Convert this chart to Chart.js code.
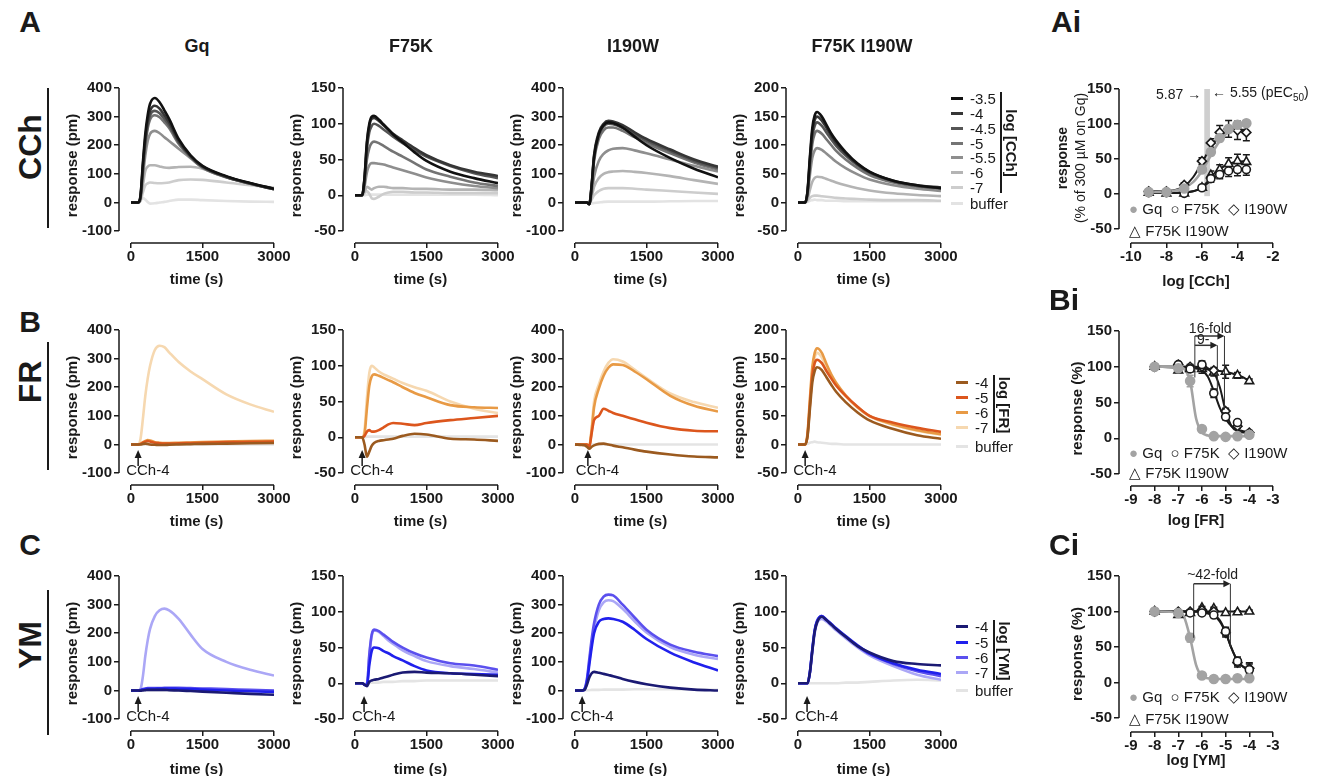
<!DOCTYPE html>
<html>
<head>
<meta charset="utf-8">
<script src="https://cdn.jsdelivr.net/npm/chart.js@4.4.0/dist/chart.umd.min.js"></script>
<style>
  body { margin: 0; background: #fff; }
  #fig { position: relative; width: 1318px; height: 776px; overflow: hidden;
         font-family: "Liberation Sans", Arial, sans-serif; color: #1a1a1a; }
  #fig canvas { position: absolute; }
  .t { position: absolute; white-space: nowrap; line-height: 1; }
</style>
</head>
<body>
<div id="fig"></div>
<script>
// ---- data ----
const times = [0, 150, 200, 250, 300, 350, 400, 500, 600, 700, 800, 1000, 1250, 1500, 2000, 2500, 3000];
const timeTicks = [0, 1500, 3000];

const cchDoses = ['-3.5', '-4', '-4.5', '-5', '-5.5', '-6', '-7', 'buffer'];
const frDoses = ['-4', '-5', '-6', '-7', 'buffer'];
const ymDoses = ['-4', '-5', '-6', '-7', 'buffer'];

const cchGq = [
  [0, 0, 25, 140, 240, 305, 345, 365, 350, 322, 292, 222, 165, 128, 92, 68, 48],
  [0, 0, 22, 130, 225, 285, 320, 338, 328, 305, 280, 215, 162, 126, 90, 67, 47],
  [0, 0, 20, 120, 210, 270, 305, 320, 312, 292, 270, 210, 160, 124, 89, 66, 46],
  [0, 0, 18, 110, 200, 258, 290, 305, 298, 280, 260, 205, 158, 122, 88, 65, 46],
  [0, 0, 15, 90, 165, 215, 240, 250, 242, 228, 215, 188, 155, 122, 88, 65, 46],
  [0, 0, 10, 60, 110, 125, 130, 130, 126, 122, 121, 124, 125, 118, 90, 67, 48],
  [0, 0, 5, 35, 60, 67, 70, 68, 67, 68, 70, 78, 80, 79, 70, 60, 52],
  [0, 0, 8, 15, 10, 2, -4, -3, 0, 2, 5, 10, 10, 8, 5, 3, 2]
];
const cchF75K = [
  [0, 0, 25, 75, 100, 110, 111, 106, 99, 92, 85, 74, 60, 48, 33, 24, 17],
  [0, 0, 24, 72, 97, 107, 108, 104, 98, 92, 86, 77, 66, 56, 42, 33, 27],
  [0, 0, 22, 65, 88, 97, 100, 97, 92, 87, 82, 73, 63, 54, 41, 31, 24],
  [0, 0, 18, 50, 66, 73, 75, 73, 69, 65, 61, 54, 45, 36, 26, 18, 13],
  [0, 0, 12, 32, 42, 45, 45, 44, 43, 41, 39, 35, 30, 25, 18, 13, 10],
  [0, 0, 5, 12, 10, 8, 10, 12, 12, 11, 10, 10, 9, 9, 8, 8, 7],
  [0, 0, 3, 6, 2, -4, -5, -2, 2, 4, 5, 5, 4, 4, 3, 3, 3],
  [0, 0, 0, 1, 1, 1, 1, 1, 1, 1, 1, 1, 1, 1, 1, 1, 0]
];
const cchI190W = [
  [0, 0, 0, 0, -6, 60, 160, 240, 270, 280, 278, 262, 230, 200, 155, 118, 88],
  [0, 0, 0, 0, -6, 62, 165, 245, 275, 285, 283, 270, 245, 222, 185, 150, 125],
  [0, 0, 0, 0, -6, 58, 155, 235, 265, 275, 273, 260, 237, 215, 180, 145, 120],
  [0, 0, 0, 0, -5, 52, 145, 222, 252, 262, 262, 250, 228, 207, 172, 140, 115],
  [0, 0, 0, 0, -4, 32, 90, 145, 170, 182, 188, 190, 182, 172, 150, 128, 108],
  [0, 0, 0, 0, -3, 20, 55, 85, 100, 106, 108, 110, 107, 103, 92, 78, 65],
  [0, 0, 0, 0, -2, 10, 25, 40, 48, 50, 50, 50, 48, 45, 40, 35, 30],
  [0, 0, 0, 0, -5, -3, -2, 0, 2, 3, 3, 3, 3, 3, 4, 5, 5]
];
const cchFI = [
  [0, 0, 20, 80, 130, 152, 158, 150, 135, 120, 108, 88, 68, 54, 38, 30, 25],
  [0, 0, 19, 75, 123, 144, 150, 143, 130, 116, 104, 85, 67, 53, 38, 30, 26],
  [0, 0, 18, 70, 115, 134, 140, 134, 122, 110, 99, 82, 65, 52, 37, 29, 25],
  [0, 0, 16, 62, 102, 120, 125, 120, 110, 100, 90, 75, 60, 48, 35, 28, 24],
  [0, 0, 12, 48, 78, 91, 95, 92, 85, 78, 71, 60, 49, 40, 30, 24, 20],
  [0, 0, 6, 22, 36, 43, 45, 44, 41, 38, 35, 30, 25, 21, 16, 13, 11],
  [0, 0, 3, 8, 11, 12, 12, 11, 10, 9, 8, 7, 6, 5, 4, 4, 3],
  [0, 0, 1, 3, 4, 5, 4, 4, 3, 3, 3, 2, 2, 2, 2, 2, 2]
];

const frGq = [
  [0, 0, 0, 2, 3, 2, 0, -1, -2, -2, -1, 0, 1, 2, 3, 4, 5],
  [0, 0, 2, 6, 10, 12, 10, 6, 4, 3, 3, 4, 5, 6, 8, 9, 10],
  [0, 0, 2, 8, 12, 15, 14, 8, 6, 5, 5, 6, 7, 8, 10, 12, 13],
  [0, 0, 20, 90, 170, 230, 275, 330, 345, 340, 322, 288, 255, 228, 175, 140, 114],
  [0, 0, 0, 0, 0, 0, 0, 0, 0, 0, 0, 0, 0, 0, 0, 0, 0]
];
const frF75K = [
  [0, 0, -10, -27, -20, -12, -8, -5, -4, -3, -2, 2, 5, 4, -2, -3, -5],
  [0, 0, 2, 8, 10, 8, 8, 10, 14, 18, 20, 19, 17, 20, 24, 27, 30],
  [0, 0, 5, 40, 72, 85, 88, 86, 83, 80, 77, 70, 62, 56, 45, 42, 41],
  [0, 0, 10, 55, 90, 100, 98, 92, 88, 85, 82, 76, 70, 65, 50, 40, 34],
  [0, 0, 0, 1, 1, 1, 1, 1, 1, 1, 1, 1, 1, 1, 1, 1, 1]
];
const frI190W = [
  [0, -2, -3, -8, -15, -8, -3, 2, 3, 0, -4, -10, -18, -25, -35, -42, -45],
  [0, 0, 0, 0, -8, 40, 85, 100, 125, 118, 110, 100, 88, 76, 57, 48, 46],
  [0, 0, 0, 0, -5, 50, 130, 195, 240, 268, 280, 278, 255, 228, 170, 135, 115],
  [0, 0, 0, 0, -5, 60, 150, 210, 255, 285, 298, 290, 262, 232, 178, 148, 128],
  [0, 0, 0, 0, 0, 0, 0, 0, 0, 0, 0, 0, 0, 0, 0, 0, 0]
];
const frFI = [
  [0, 0, 14, 62, 108, 128, 135, 130, 117, 104, 92, 74, 56, 42, 27, 16, 10],
  [0, 0, 16, 70, 120, 142, 148, 142, 128, 115, 103, 85, 66, 50, 38, 29, 22],
  [0, 0, 20, 80, 135, 160, 168, 160, 140, 122, 108, 86, 65, 50, 35, 25, 18],
  [0, 0, 18, 75, 128, 152, 160, 152, 134, 118, 104, 84, 64, 49, 34, 24, 17],
  [0, 0, 1, 3, 4, 5, 4, 3, 2, 1, 1, 0, 0, 0, 0, 0, 0]
];

const ymGq = [
  [0, 0, -1, 0, 1, 2, 2, 2, 2, 2, 1, 0, -2, -4, -8, -12, -15],
  [0, 0, 1, 3, 5, 6, 6, 6, 7, 7, 7, 6, 5, 3, 0, -3, -5],
  [0, 0, 2, 5, 7, 8, 8, 8, 8, 9, 9, 9, 8, 7, 5, 2, 0],
  [0, 0, 5, 50, 120, 175, 215, 260, 280, 286, 280, 250, 195, 145, 100, 72, 52],
  [0, 0, 0, 0, 0, 0, 0, 0, 0, 0, 0, 0, 0, 0, 0, 0, 0]
];
const ymF75K = [
  [0, 0, -2, -4, 2, 4, 5, 6, 8, 10, 12, 15, 16, 15, 14, 12, 10],
  [0, 0, -2, -3, 25, 45, 50, 49, 45, 42, 38, 32, 24, 18, 14, 13, 12],
  [0, 0, -2, -3, 40, 68, 75, 73, 68, 63, 58, 50, 42, 36, 28, 25, 19],
  [0, 0, -2, -3, 38, 66, 74, 72, 66, 60, 55, 46, 38, 31, 24, 20, 15],
  [0, 0, 0, 0, 1, 1, 1, 1, 2, 2, 2, 3, 3, 4, 4, 4, 4]
];
const ymI190W = [
  [0, 0, 2, 20, 45, 60, 65, 62, 58, 54, 50, 40, 30, 22, 10, 3, 0],
  [0, 0, 4, 30, 90, 150, 200, 240, 250, 252, 250, 240, 212, 180, 132, 98, 70],
  [0, 0, 5, 40, 110, 180, 235, 300, 328, 335, 332, 300, 255, 212, 160, 135, 120],
  [0, 0, 5, 35, 100, 165, 215, 280, 308, 315, 312, 285, 242, 203, 152, 125, 110],
  [0, 0, 0, 1, 1, 2, 2, 2, 3, 3, 3, 3, 4, 4, 4, 3, 2]
];
const ymFI = [
  [0, 0, 0, 15, 45, 72, 85, 93, 88, 82, 76, 65, 52, 43, 31, 27, 25],
  [0, 0, 0, 16, 47, 74, 87, 94, 89, 83, 77, 66, 53, 42, 28, 19, 13],
  [0, 0, 0, 16, 47, 74, 87, 94, 88, 82, 76, 65, 52, 41, 27, 17, 10],
  [0, 0, 0, 14, 44, 70, 84, 90, 86, 80, 74, 63, 50, 39, 24, 12, 5],
  [0, 0, 0, 0, 0, 0, 0, 0, 0, 0, 0, 1, 1, 2, 4, 5, 4]
];

// concentration-response (mean, error)
const cchLog = [-9, -8, -7, -6, -5.5, -5, -4.5, -4, -3.5];
const cchGqMean = [3, 3, 8, 35, 60, 80, 93, 99, 101];
const cchF75KMean = [2, 2, 1, 9, 22, 28, 33, 35, 35];
const cchI190WMean = [4, 4, 13, 47, 73, 88, 93, 91, 88];
const cchFIMean = [2, 1, 1, 9, 27, 35, 43, 47, 46];
const cchGqErr = [1, 1, 2, 4, 5, 5, 5, 4, 3];
const cchF75KErr = [2, 2, 2, 3, 5, 6, 8, 9, 8];
const cchI190WErr = [2, 2, 3, 5, 6, 10, 12, 13, 12];
const cchFIErr = [2, 2, 2, 3, 6, 7, 9, 10, 10];
const cchCurveX = [-9, -8.5, -8, -7.5, -7, -6.5, -6, -5.75, -5.5, -5.25, -5, -4.5, -4, -3.5];
const cchGqCurve = [3, 3, 3.5, 5, 9, 17, 33, 44, 55, 66, 76, 89, 96, 99];
const cchF75KCurve = [2, 2, 2, 2, 2.5, 4, 9, 14, 19, 24, 28, 33, 35, 36];
const cchI190WCurve = [4, 4, 4.5, 6, 11, 24, 45, 56, 67, 76, 83, 90, 92, 92];
const cchFICurve = [1.5, 1.5, 1.5, 1.5, 2, 4, 9, 16, 24, 31, 36, 43, 46, 47];

const frLog = [-8, -7, -6.5, -6, -5.5, -5, -4.5, -4];
const frGqMean = [100, 98, 80, 13, 3, 2, 3, 5];
const frF75KMean = [100, 103, 97, 103, 63, 30, 22, 5];
const frI190WMean = [100, 103, 100, 100, 95, 38, 17, 8];
const frFIMean = [100, 95, 97, 97, 92, 93, 88, 80];
const frGqErr = [2, 2, 8, 3, 1, 1, 1, 1];
const frF75KErr = [2, 3, 3, 5, 6, 4, 4, 3];
const frI190WErr = [2, 3, 3, 4, 4, 4, 3, 3];
const frFIErr = [2, 3, 4, 6, 5, 9, 4, 3];
const frCurveX = [-8, -7, -6.75, -6.5, -6.25, -6, -5.75, -5.5, -5.25, -5, -4.75, -4.5, -4.25, -4];
const frGqCurve = [100, 100, 97, 80, 28, 8, 4, 3, 3, 3, 3, 3, 3, 3];
const frF75KCurve = [100, 100, 100, 99, 98, 95, 86, 66, 43, 27, 17, 12, 10, 9];
const frI190WCurve = [100, 100, 100, 100, 100, 99, 98, 92, 72, 38, 17, 10, 8, 8];
const frFICurve = [100, 99, 99, 99, 98, 97, 96, 95, 94, 93, 91, 88, 85, 80];

const ymLog = [-8, -7, -6.5, -6, -5.5, -5, -4.5, -4];
const ymGqMean = [100, 98, 63, 10, 5, 5, 6, 6];
const ymF75KMean = [100, 98, 98, 98, 95, 72, 30, 18];
const ymI190WMean = [100, 100, 100, 102, 100, 70, 28, 20];
const ymFIMean = [100, 95, 98, 105, 104, 98, 99, 100];
const ymGqErr = [2, 2, 6, 2, 1, 1, 1, 1];
const ymF75KErr = [2, 2, 2, 2, 3, 6, 6, 8];
const ymI190WErr = [2, 2, 2, 2, 3, 6, 6, 8];
const ymFIErr = [2, 3, 2, 2, 2, 2, 2, 2];
const ymCurveX = [-8, -7, -6.75, -6.5, -6.25, -6, -5.75, -5.5, -5.25, -5, -4.75, -4.5, -4.25, -4];
const ymGqCurve = [100, 99, 92, 63, 25, 9, 6, 5, 5, 5, 5, 5, 5, 5];
const ymF75KCurve = [100, 100, 100, 100, 100, 99, 97, 94, 86, 70, 48, 31, 22, 18];
const ymI190WCurve = [100, 100, 100, 100, 100, 100, 99, 96, 88, 71, 48, 30, 22, 19];
const ymFICurve = [100, 100, 100, 100, 100, 100, 100, 100, 100, 100, 100, 100, 100, 100];

// ---- styling ----
const FONT = '"Liberation Sans", Arial, sans-serif';
const INK = '#1a1a1a';
const cchColors = ['#111111', '#363636', '#555555', '#747474', '#8e8e8e', '#b4b4b4', '#cdcdcd', '#e3e3e3'];
const frColors = ['#9b5a1f', '#dc561d', '#e89a45', '#f6d8b0', '#e4e4e4'];
const ymColors = ['#1b1a73', '#2020ec', '#5b50ee', '#aba7f6', '#e4e4e4'];
const GQ_GREY = '#a3a3a3';

Chart.defaults.font.family = FONT;
Chart.defaults.color = INK;

const fig = document.getElementById('fig');

function put(html, x, y, css, anchor, rot) {
  const d = document.createElement('div');
  d.className = 't';
  d.innerHTML = html;
  d.style.cssText += css || '';
  d.style.left = x + 'px';
  d.style.top = y + 'px';
  let tr = anchor === 'left' ? 'translate(0,-50%)' : 'translate(-50%,-50%)';
  if (rot) tr += ' rotate(' + rot + 'deg)';
  d.style.transform = tr;
  fig.appendChild(d);
  return d;
}

function vline(x, y1, y2) {
  const d = document.createElement('div');
  d.style.cssText = `position:absolute;left:${x - 1}px;top:${y1}px;width:2px;height:${y2 - y1}px;background:${INK}`;
  fig.appendChild(d);
}

// detached Prism-style axis lines
const prismAxes = {
  id: 'prism',
  beforeDatasetsDraw(chart, args, o) {
    const { ctx, chartArea, scales: { x, y } } = chart;
    ctx.save();
    ctx.strokeStyle = INK;
    ctx.lineWidth = 1.5;
    ctx.beginPath();
    ctx.moveTo(chartArea.left, y.getPixelForValue(o.yTop));
    ctx.lineTo(chartArea.left, y.getPixelForValue(o.yLow));
    ctx.moveTo(x.getPixelForValue(o.xFrom), chartArea.bottom);
    ctx.lineTo(x.getPixelForValue(o.xTo), chartArea.bottom);
    ctx.stroke();
    ctx.restore();
  }
};

// "CCh-4" addition marker
const cchArrow = {
  id: 'cch',
  afterDraw(chart, args, o) {
    if (o.t == null) return;
    const { ctx, scales: { x, y } } = chart;
    const px = x.getPixelForValue(o.t);
    const yl = y.getPixelForValue(o.yLow);
    ctx.save();
    ctx.strokeStyle = INK;
    ctx.fillStyle = INK;
    ctx.lineWidth = 1.5;
    ctx.beginPath();
    ctx.moveTo(px, yl - 7);
    ctx.lineTo(px, yl - 17);
    ctx.stroke();
    ctx.beginPath();
    ctx.moveTo(px, yl - 23);
    ctx.lineTo(px - 3.5, yl - 15);
    ctx.lineTo(px + 3.5, yl - 15);
    ctx.closePath();
    ctx.fill();
    ctx.font = '15px ' + FONT;
    ctx.textBaseline = 'middle';
    ctx.fillText('CCh-4', px - 12, yl - 2);
    ctx.restore();
  }
};

// error bars for mean +- error points
const errorBars = {
  id: 'errbars',
  beforeDatasetsDraw(chart) {
    const { ctx, scales: { x, y } } = chart;
    ctx.save();
    ctx.lineWidth = 1.5;
    chart.data.datasets.forEach(ds => {
      if (!ds.errors) return;
      ctx.strokeStyle = ds.borderColor;
      ds.data.forEach((p, j) => {
        const e = ds.errors[j];
        const px = x.getPixelForValue(p.x);
        const y1 = y.getPixelForValue(p.y + e), y2 = y.getPixelForValue(p.y - e);
        ctx.beginPath();
        ctx.moveTo(px, y1); ctx.lineTo(px, y2);
        ctx.moveTo(px - 3.5, y1); ctx.lineTo(px + 3.5, y1);
        ctx.moveTo(px - 3.5, y2); ctx.lineTo(px + 3.5, y2);
        ctx.stroke();
      });
    });
    ctx.restore();
  }
};

// pEC50 band and fold-shift brackets
const marks = {
  id: 'marks',
  beforeDatasetsDraw(chart, args, o) {
    if (!o.band) return;
    const { ctx, scales: { x, y } } = chart;
    const [x1, x2, y1, y2] = o.band;
    ctx.save();
    ctx.fillStyle = '#cfcfcf';
    ctx.fillRect(x.getPixelForValue(x1), y.getPixelForValue(y1),
      x.getPixelForValue(x2) - x.getPixelForValue(x1), y.getPixelForValue(y2) - y.getPixelForValue(y1));
    ctx.restore();
  },
  afterDraw(chart, args, o) {
    if (!o.folds) return;
    const { ctx, scales: { x, y } } = chart;
    ctx.save();
    ctx.strokeStyle = '#333';
    ctx.fillStyle = '#222';
    o.folds.forEach(f => {
      const a = x.getPixelForValue(f.x1), b = x.getPixelForValue(f.x2), py = y.getPixelForValue(f.y);
      ctx.lineWidth = 1;
      ctx.beginPath();
      ctx.moveTo(a, py); ctx.lineTo(a, y.getPixelForValue(f.d1));
      ctx.moveTo(b, py); ctx.lineTo(b, y.getPixelForValue(f.d2));
      ctx.stroke();
      ctx.lineWidth = 1.5;
      ctx.beginPath();
      ctx.moveTo(a, py); ctx.lineTo(b - 4, py);
      ctx.stroke();
      ctx.beginPath();
      ctx.moveTo(b, py); ctx.lineTo(b - 7, py - 3.5); ctx.lineTo(b - 7, py + 3.5);
      ctx.closePath();
      ctx.fill();
      ctx.font = '14px ' + FONT;
      ctx.textAlign = 'center';
      ctx.textBaseline = 'middle';
      ctx.fillText(f.label, x.getPixelForValue(f.lx), y.getPixelForValue(f.ly));
    });
    ctx.restore();
  }
};

function linScale(min, max, ticks, title, size, isY, pad) {
  return {
    type: 'linear', min, max,
    afterBuildTicks: s => { s.ticks = ticks.map(v => ({ value: v })); },
    afterFit: s => { if (isY) s.width = size; else s.height = size; },
    ticks: { font: { size: 15, weight: 'bold' }, color: INK, padding: pad, autoSkip: false,
             maxRotation: 0, callback: v => String(v) },
    grid: { drawOnChartArea: false, drawTicks: true, tickLength: 5, color: INK, lineWidth: 1.5 },
    border: { display: false },
    title: { display: !!title, text: title || '', font: { size: 15, weight: 'bold' }, color: INK, padding: 0 }
  };
}

function makeCanvas(left, top, w, h) {
  const c = document.createElement('canvas');
  c.width = w; c.height = h;
  c.style.left = left + 'px'; c.style.top = top + 'px';
  fig.appendChild(c);
  return c;
}

// ---- time-course panels ----
const COL_X = [119, 343, 563, 786];
const ROW_TOP = [87, 329, 575];
const arrowT = [[null, null, null, null], [150, 150, 270, 150], [150, 190, 150, 190]];

function timePanel(row, col, traces, colors, yTicks) {
  const L = 55, W = 155, padTop = 10, padRight = 26, plotH = 144, gap = 12;
  const B = row === 2 ? 48 : 46;
  const yLow = yTicks[0], yTop = yTicks[yTicks.length - 1];
  const yMin = yLow - gap / plotH * (yTop - yLow);
  const xMin = -12 / 143 * 3000;
  const c = makeCanvas(COL_X[col] - L, ROW_TOP[row] - padTop, L + W + padRight, padTop + plotH + gap + B);
  new Chart(c, {
    type: 'line',
    data: {
      datasets: traces.map((vals, i) => ({
        data: vals.map((v, j) => ({ x: times[j], y: v })),
        borderColor: colors[i], borderWidth: 2.6, pointRadius: 0,
        cubicInterpolationMode: 'monotone', fill: false
      }))
    },
    options: {
      responsive: false, animation: false, devicePixelRatio: 1, events: [],
      layout: { padding: { left: 0, top: padTop, right: padRight, bottom: 0 } },
      plugins: {
        legend: { display: false }, tooltip: { enabled: false },
        prism: { yTop, yLow, xFrom: 0, xTo: 3000 },
        cch: { t: arrowT[row][col], yLow }
      },
      scales: {
        x: linScale(xMin, 3000, timeTicks, 'time (s)', B, false, 0),
        y: linScale(yMin, yTop, yTicks, 'response (pm)', L, true, 2)
      }
    },
    plugins: [prismAxes, cchArrow]
  });
}

const t400 = [-100, 0, 100, 200, 300, 400];
const t150 = [-50, 0, 50, 100, 150];
const t200 = [-50, 0, 50, 100, 150, 200];

[cchGq, cchF75K, cchI190W, cchFI].forEach((d, i) => timePanel(0, i, d, cchColors, [t400, t150, t400, t200][i]));
[frGq, frF75K, frI190W, frFI].forEach((d, i) => timePanel(1, i, d, frColors, [t400, t150, t400, t200][i]));
[ymGq, ymF75K, ymI190W, ymFI].forEach((d, i) => timePanel(2, i, d, ymColors, [t400, t150, t400, t150][i]));

// ---- concentration-response panels ----
const markerStyles = [
  { pointStyle: 'circle', radius: 4.5, bg: GQ_GREY, fg: GQ_GREY },
  { pointStyle: 'circle', radius: 4, bg: '#fff', fg: INK },
  { pointStyle: 'rectRot', radius: 4.5, bg: '#fff', fg: INK },
  { pointStyle: 'triangle', radius: 5, bg: '#fff', fg: INK }
];

function dosePanel(p) {
  const L = 50, W = 154, padTop = 10, padRight = 26;
  const yTicks = [-50, 0, 50, 100, 150];
  const yMin = -50 - p.gap / p.plotH * 200;
  const pxPerUnit = 143 / (p.xTicks[p.xTicks.length - 1] - p.xTicks[0]);
  const xMin = p.xTicks[0] - 12 / pxPerUnit;
  const xMax = p.xTicks[p.xTicks.length - 1];
  const c = makeCanvas(1119 - L, p.top - padTop, L + W + padRight, padTop + p.plotH + p.gap + p.B);
  const pts = p.means.map((m, i) => ({
    data: m.map((v, j) => ({ x: p.logs[j], y: v })), errors: p.errs[i],
    showLine: false, pointStyle: markerStyles[i].pointStyle, pointRadius: markerStyles[i].radius,
    pointBackgroundColor: markerStyles[i].bg, pointBorderColor: markerStyles[i].fg,
    borderColor: markerStyles[i].fg, pointBorderWidth: 1.6
  }));
  const fits = p.curves.map((cv, i) => ({
    data: cv.map((v, j) => ({ x: p.curveX[j], y: v })),
    borderColor: i === 0 ? GQ_GREY : INK, borderWidth: i === 0 ? 2.6 : 2,
    pointRadius: 0, cubicInterpolationMode: 'monotone', fill: false
  }));
  new Chart(c, {
    type: 'line',
    data: { datasets: pts.concat(fits) },
    options: {
      responsive: false, animation: false, devicePixelRatio: 1, events: [],
      layout: { padding: { left: 0, top: padTop, right: padRight, bottom: 0 } },
      plugins: {
        legend: { display: false }, tooltip: { enabled: false },
        prism: { yTop: 150, yLow: -50, xFrom: p.xTicks[0], xTo: xMax },
        marks: { band: p.band, folds: p.folds }
      },
      scales: {
        x: linScale(xMin, xMax, p.xTicks, p.xTitle, p.B, false, 0),
        y: linScale(yMin, 150, yTicks, p.yTitle, L, true, 2)
      }
    },
    plugins: [prismAxes, errorBars, marks]
  });
}

dosePanel({
  top: 88, plotH: 141, gap: 14, B: 48, xTicks: [-10, -8, -6, -4, -2], xTitle: 'log [CCh]', yTitle: null,
  logs: cchLog, means: [cchGqMean, cchF75KMean, cchI190WMean, cchFIMean],
  errs: [cchGqErr, cchF75KErr, cchI190WErr, cchFIErr],
  curveX: cchCurveX, curves: [cchGqCurve, cchF75KCurve, cchI190WCurve, cchFICurve],
  band: [-5.87, -5.55, 150, -3]
});
dosePanel({
  top: 330, plotH: 144, gap: 12, B: 44, xTicks: [-9, -8, -7, -6, -5, -4, -3], xTitle: 'log [FR]', yTitle: 'response (%)',
  logs: frLog, means: [frGqMean, frF75KMean, frI190WMean, frFIMean],
  errs: [frGqErr, frF75KErr, frI190WErr, frFIErr],
  curveX: frCurveX, curves: [frGqCurve, frF75KCurve, frI190WCurve, frFICurve],
  folds: [
    { x1: -6.3, x2: -5.05, y: 143, d1: 85, d2: 40, label: '16-fold', lx: -5.65, ly: 153 },
    { x1: -6.3, x2: -5.35, y: 130, d1: 130, d2: 63, label: '9-', lx: -5.95, ly: 137 }
  ]
});
dosePanel({
  top: 575, plotH: 143, gap: 14, B: 38, xTicks: [-9, -8, -7, -6, -5, -4, -3], xTitle: 'log [YM]', yTitle: 'response (%)',
  logs: ymLog, means: [ymGqMean, ymF75KMean, ymI190WMean, ymFIMean],
  errs: [ymGqErr, ymF75KErr, ymI190WErr, ymFIErr],
  curveX: ymCurveX, curves: [ymGqCurve, ymF75KCurve, ymI190WCurve, ymFICurve],
  folds: [
    { x1: -6.35, x2: -4.8, y: 139, d1: 63, d2: 50, label: '~42-fold', lx: -5.55, ly: 151 }
  ]
});

// ---- text, legends ----
const big = 'font-weight:bold;font-size:30px;';
put('A', 30, 22, big); put('Ai', 1066, 22, big);
put('B', 30, 322, big); put('Bi', 1064, 300, big);
put('C', 30, 545, big); put('Ci', 1064, 545, big);

const colTitle = 'font-weight:bold;font-size:18px;';
put('Gq', 197, 46, colTitle); put('F75K', 411, 46, colTitle);
put('I190W', 633, 46, colTitle); put('F75K I190W', 862, 46, colTitle);

const rowLab = 'font-weight:bold;font-size:32px;';
put('CCh', 30, 147, rowLab, 'center', -90); vline(48, 88, 228);
put('FR', 30, 382, rowLab, 'center', -90); vline(48, 342, 470);
put('YM', 30, 645, rowLab, 'center', -90); vline(48, 590, 735);

function traceLegend(labels, colors, ys, lx, title, barX, barTop, barBot, titleY) {
  labels.forEach((lab, i) => {
    const sw = document.createElement('div');
    sw.style.cssText = `position:absolute;left:${lx}px;top:${ys[i] - 1.5}px;width:12px;height:3px;background:${colors[i]}`;
    fig.appendChild(sw);
    put(lab, lx + 19, ys[i], 'font-size:15px;', 'left');
  });
  vline(barX, barTop, barBot);
  put(title, barX + 10, titleY, 'font-weight:bold;font-size:15px;', 'center', 90);
}
traceLegend(cchDoses, cchColors, [98, 113, 128, 143, 157, 172, 187, 203], 951, 'log [CCh]', 1001, 92, 193, 143);
traceLegend(frDoses, frColors, [382, 397, 412, 427, 446], 956, 'log [FR]', 994, 375, 433, 405);
traceLegend(ymDoses, ymColors, [626, 642, 657, 672, 690], 956, 'log [YM]', 994, 620, 680, 651);

function doseLegend(y1, y2) {
  put(`<span style="color:${GQ_GREY}">●</span> Gq &nbsp;○ F75K &nbsp;◇ I190W`, 1129, y1, 'font-size:15px;', 'left');
  put('△ F75K I190W', 1129, y2, 'font-size:15px;', 'left');
}
doseLegend(208, 230);
doseLegend(452, 472);
doseLegend(696, 718);

put('<b>response</b><br>(% of 300 µM on Gq)', 1071, 158, 'font-size:14px;line-height:18px;text-align:center;', 'center', -90);
put('5.87 →', 1156, 94, 'font-size:14px;', 'left');
put('← 5.55 (pEC<sub style="font-size:10px">50</sub>)', 1212, 94, 'font-size:14px;', 'left');
</script>
</body>
</html>
